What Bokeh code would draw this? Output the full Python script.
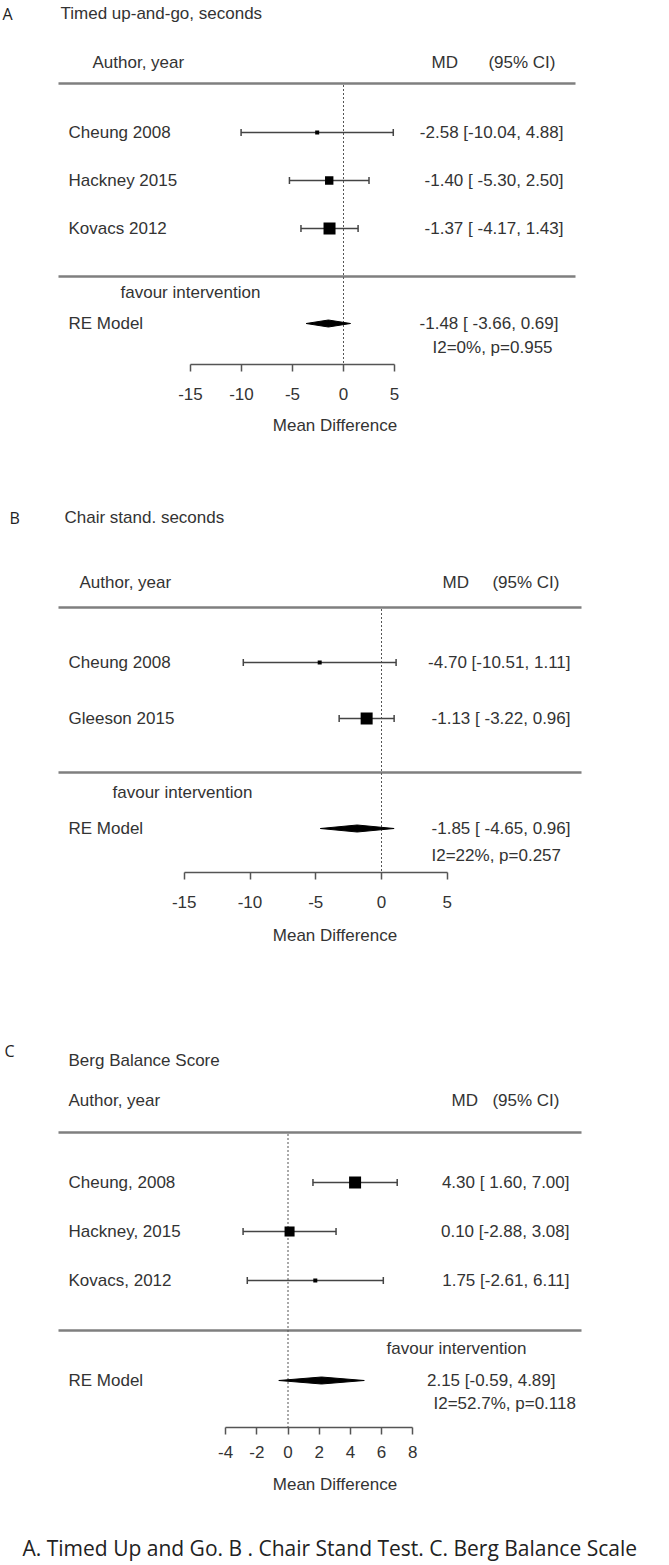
from bokeh.plotting import figure
from bokeh.models import Range1d, LinearAxis, FixedTicker
from bokeh.layouts import column
from bokeh.embed import file_html
from bokeh.resources import INLINE
from bokeh.core.properties import value

# ---------------- data ----------------
A_letter = "A"
A_title = "Timed up-and-go, seconds"
A_studies = ["Cheung  2008", "Hackney 2015", "Kovacs   2012"]
A_md = [-2.58, -1.40, -1.37]
A_lo = [-10.04, -5.30, -4.17]
A_hi = [4.88, 2.50, 1.43]
A_re = [-1.48, -3.66, 0.69]
A_het = "I2=0%, p=0.955"
A_ticks = [-15, -10, -5, 0, 5]

B_letter = "B"
B_title = "Chair stand. seconds"
B_studies = ["Cheung  2008", "Gleeson 2015"]
B_md = [-4.70, -1.13]
B_lo = [-10.51, -3.22]
B_hi = [1.11, 0.96]
B_re = [-1.85, -4.65, 0.96]
B_het = "I2=22%, p=0.257"
B_ticks = [-15, -10, -5, 0, 5]

C_letter = "C"
C_title = "Berg Balance Score"
C_studies = ["Cheung,  2008", "Hackney, 2015", "Kovacs,   2012"]
C_md = [4.30, 0.10, 1.75]
C_lo = [1.60, -2.88, -2.61]
C_hi = [7.00, 3.08, 6.11]
C_re = [2.15, -0.59, 4.89]
C_het = "I2=52.7%, p=0.118"
C_ticks = [-4, -2, 0, 2, 4, 6, 8]

header_left = "Author, year"
header_md = "MD"
header_ci = "(95% CI)"
re_label = "RE Model"
favour_text = "favour intervention"
axis_title = "Mean Difference"
caption = "A. Timed Up and Go. B . Chair Stand Test. C. Berg Balance Scale"

# ---------------- layout (page pixels) ----------------
W = 669
FONT = "Liberation Sans"
FS = "17px"
TXT = "#333333"

LA = dict(top=0, height=480, zero=343, ppu=10.2, letter=(2, 13), title=(60, 13),
          author=(92, 62), md=(431, 62), ci_right=555, line_top=83, line_x=(58, 575),
          row0=132, drow=48, line_bot=276, favour=(120, 292), re_y=323, het=(432, 347),
          axis_y=364, right_x=563, re_right=558, tick_standoff=16, label_standoff=13)
LB = dict(top=480, height=520, zero=381, ppu=13.15, letter=(9, 517), title=(64, 517),
          author=(79, 582), md=(442, 582), ci_right=559, line_top=607, line_x=(58, 581),
          row0=662, drow=56, line_bot=772, favour=(112, 792), re_y=828, het=(431, 855),
          axis_y=872, right_x=570, re_right=570, tick_standoff=16, label_standoff=15)
LC = dict(top=1000, height=508, zero=287.5, ppu=15.6, letter=(4, 1050), title=(68, 1060),
          author=(68, 1100), md=(451, 1100), ci_right=559, line_top=1132, line_x=(58, 581),
          row0=1182, drow=49, line_bot=1330, favour=(386, 1348), re_y=1380, het=(433, 1403),
          axis_y=1427, right_x=569, re_right=555, tick_standoff=11, label_standoff=14)
LD = dict(top=1508, height=56, caption=(22, 1547))


def fmt_rows(md, lo, hi, re):
    los = [f"{v:.2f}" for v in lo + [re[1]]]
    wl = max(len(s) for s in los)
    out = []
    for m, l, h in zip(md + [re[0]], lo + [re[1]], hi + [re[2]]):
        ls = f"{l:.2f}"
        ls = " " * (wl - len(ls)) + ls
        out.append(f"{m:.2f} [{ls}, {h:.2f}]")
    return out[:-1], out[-1]


def blank(width, height, frame_h):
    p = figure(width=width, height=height, output_backend="svg", toolbar_location=None,
               x_axis_location=None, y_axis_location=None,
               min_border_left=0, min_border_right=0, min_border_top=0,
               min_border_bottom=height - frame_h)
    p.outline_line_color = None
    p.xgrid.grid_line_color = None
    p.ygrid.grid_line_color = None
    return p


def panel(L, letter, title, studies, md, lo, hi, re, het, ticks):
    top, H = L["top"], L["height"]
    frame_h = L["axis_y"] - top
    zero, ppu = L["zero"], L["ppu"]
    p = blank(W, H, frame_h)
    p.x_range = Range1d((0 - zero) / ppu, (W - zero) / ppu)
    p.y_range = Range1d(frame_h, 0)

    X = lambda px: (px - zero) / ppu
    Y = lambda py: py - top

    def txt(xs, ys, texts, align="left", font=FONT, size=FS, color=TXT):
        p.text(x=xs, y=ys, text=texts, text_align=align, text_baseline="middle",
               text_font=value(font), text_font_size=size, text_color=color)

    # headings
    txt([X(L["letter"][0])], [Y(L["letter"][1])], [letter], font="Open Sans", size="16px", color="#222222")
    txt([X(L["title"][0])], [Y(L["title"][1])], [title])
    txt([X(L["author"][0])], [Y(L["author"][1])], [header_left])
    txt([X(L["md"][0])], [Y(L["md"][1])], [header_md])
    txt([X(L["ci_right"])], [Y(L["md"][1])], [header_ci], align="right")

    # separator lines
    x0, x1 = X(L["line_x"][0]), X(L["line_x"][1])
    p.segment(x0=[x0, x0], x1=[x1, x1], y0=[Y(L["line_top"]), Y(L["line_bot"])],
              y1=[Y(L["line_top"]), Y(L["line_bot"])], line_color="#7f7f7f", line_width=2.5)

    # reference line at 0
    p.segment(x0=[0], x1=[0], y0=[Y(L["line_top"]) + 1.5], y1=[frame_h],
              line_color="#555555", line_width=1, line_dash="2 2")

    # studies
    n = len(studies)
    ys = [Y(L["row0"] + i * L["drow"]) for i in range(n)]
    txt([X(68)] * n, ys, studies)
    p.segment(x0=lo, x1=hi, y0=ys, y1=ys, line_color="#444444", line_width=1.6)
    p.segment(x0=lo + hi, x1=lo + hi, y0=[y - 3.5 for y in ys] * 2, y1=[y + 3.5 for y in ys] * 2,
              line_color="#444444", line_width=1.5)
    se = [(h - l) / (2 * 1.96) for l, h in zip(lo, hi)]
    wi = [1 / s for s in se]
    rng = max(wi) - min(wi)
    sizes = [8 * (0.5 + (w - min(wi)) / rng) for w in wi]
    p.scatter(x=md, y=ys, size=sizes, marker="square", fill_color="black", line_color="black",
              line_width=0)

    rows, re_txt = fmt_rows(md, lo, hi, re)
    txt([X(L["right_x"])] * n, ys, rows, align="right")

    # summary
    txt([X(L["favour"][0])], [Y(L["favour"][1])], [favour_text])
    yr = Y(L["re_y"])
    txt([X(68)], [yr], [re_label])
    p.patch(x=[re[1], re[0], re[2], re[0]], y=[yr, yr - 3.5, yr, yr + 3.5],
            fill_color="black", line_color="black", line_width=1)
    txt([X(L["re_right"])], [yr], [re_txt], align="right")
    txt([X(L["het"][0])], [Y(L["het"][1])], [het])

    ax = LinearAxis(ticker=FixedTicker(ticks=ticks), bounds=(min(ticks), max(ticks)),
                    axis_label=axis_title)
    ax.major_label_overrides = {t: str(t) for t in ticks}
    ax.axis_line_color = "#555555"
    ax.axis_line_width = 1.5
    ax.major_tick_line_color = "#555555"
    ax.major_tick_line_width = 1.5
    ax.major_tick_out = 7
    ax.major_tick_in = 0
    ax.minor_tick_line_color = None
    ax.major_label_text_font = FONT
    ax.major_label_text_font_size = FS
    ax.major_label_text_color = TXT
    ax.major_label_standoff = L["tick_standoff"]
    ax.axis_label_text_font = FONT
    ax.axis_label_text_font_size = FS
    ax.axis_label_text_font_style = "normal"
    ax.axis_label_text_color = TXT
    ax.axis_label_standoff = L["label_standoff"]
    p.add_layout(ax, "below")
    return p


pA = panel(LA, A_letter, A_title, A_studies, A_md, A_lo, A_hi, A_re, A_het, A_ticks)
pB = panel(LB, B_letter, B_title, B_studies, B_md, B_lo, B_hi, B_re, B_het, B_ticks)
pC = panel(LC, C_letter, C_title, C_studies, C_md, C_lo, C_hi, C_re, C_het, C_ticks)

# caption
pD = blank(W, LD["height"], LD["height"])
pD.x_range = Range1d(0, W)
pD.y_range = Range1d(LD["height"], 0)
pD.text(x=[LD["caption"][0]], y=[LD["caption"][1] - LD["top"]], text=[caption],
        text_align="left", text_baseline="middle",
        text_font=value("Open Sans"), text_font_size="21px", text_color="#222222")

layout = column(pA, pB, pC, pD, spacing=0)
open("out.html", "w").write(file_html(layout, INLINE))
